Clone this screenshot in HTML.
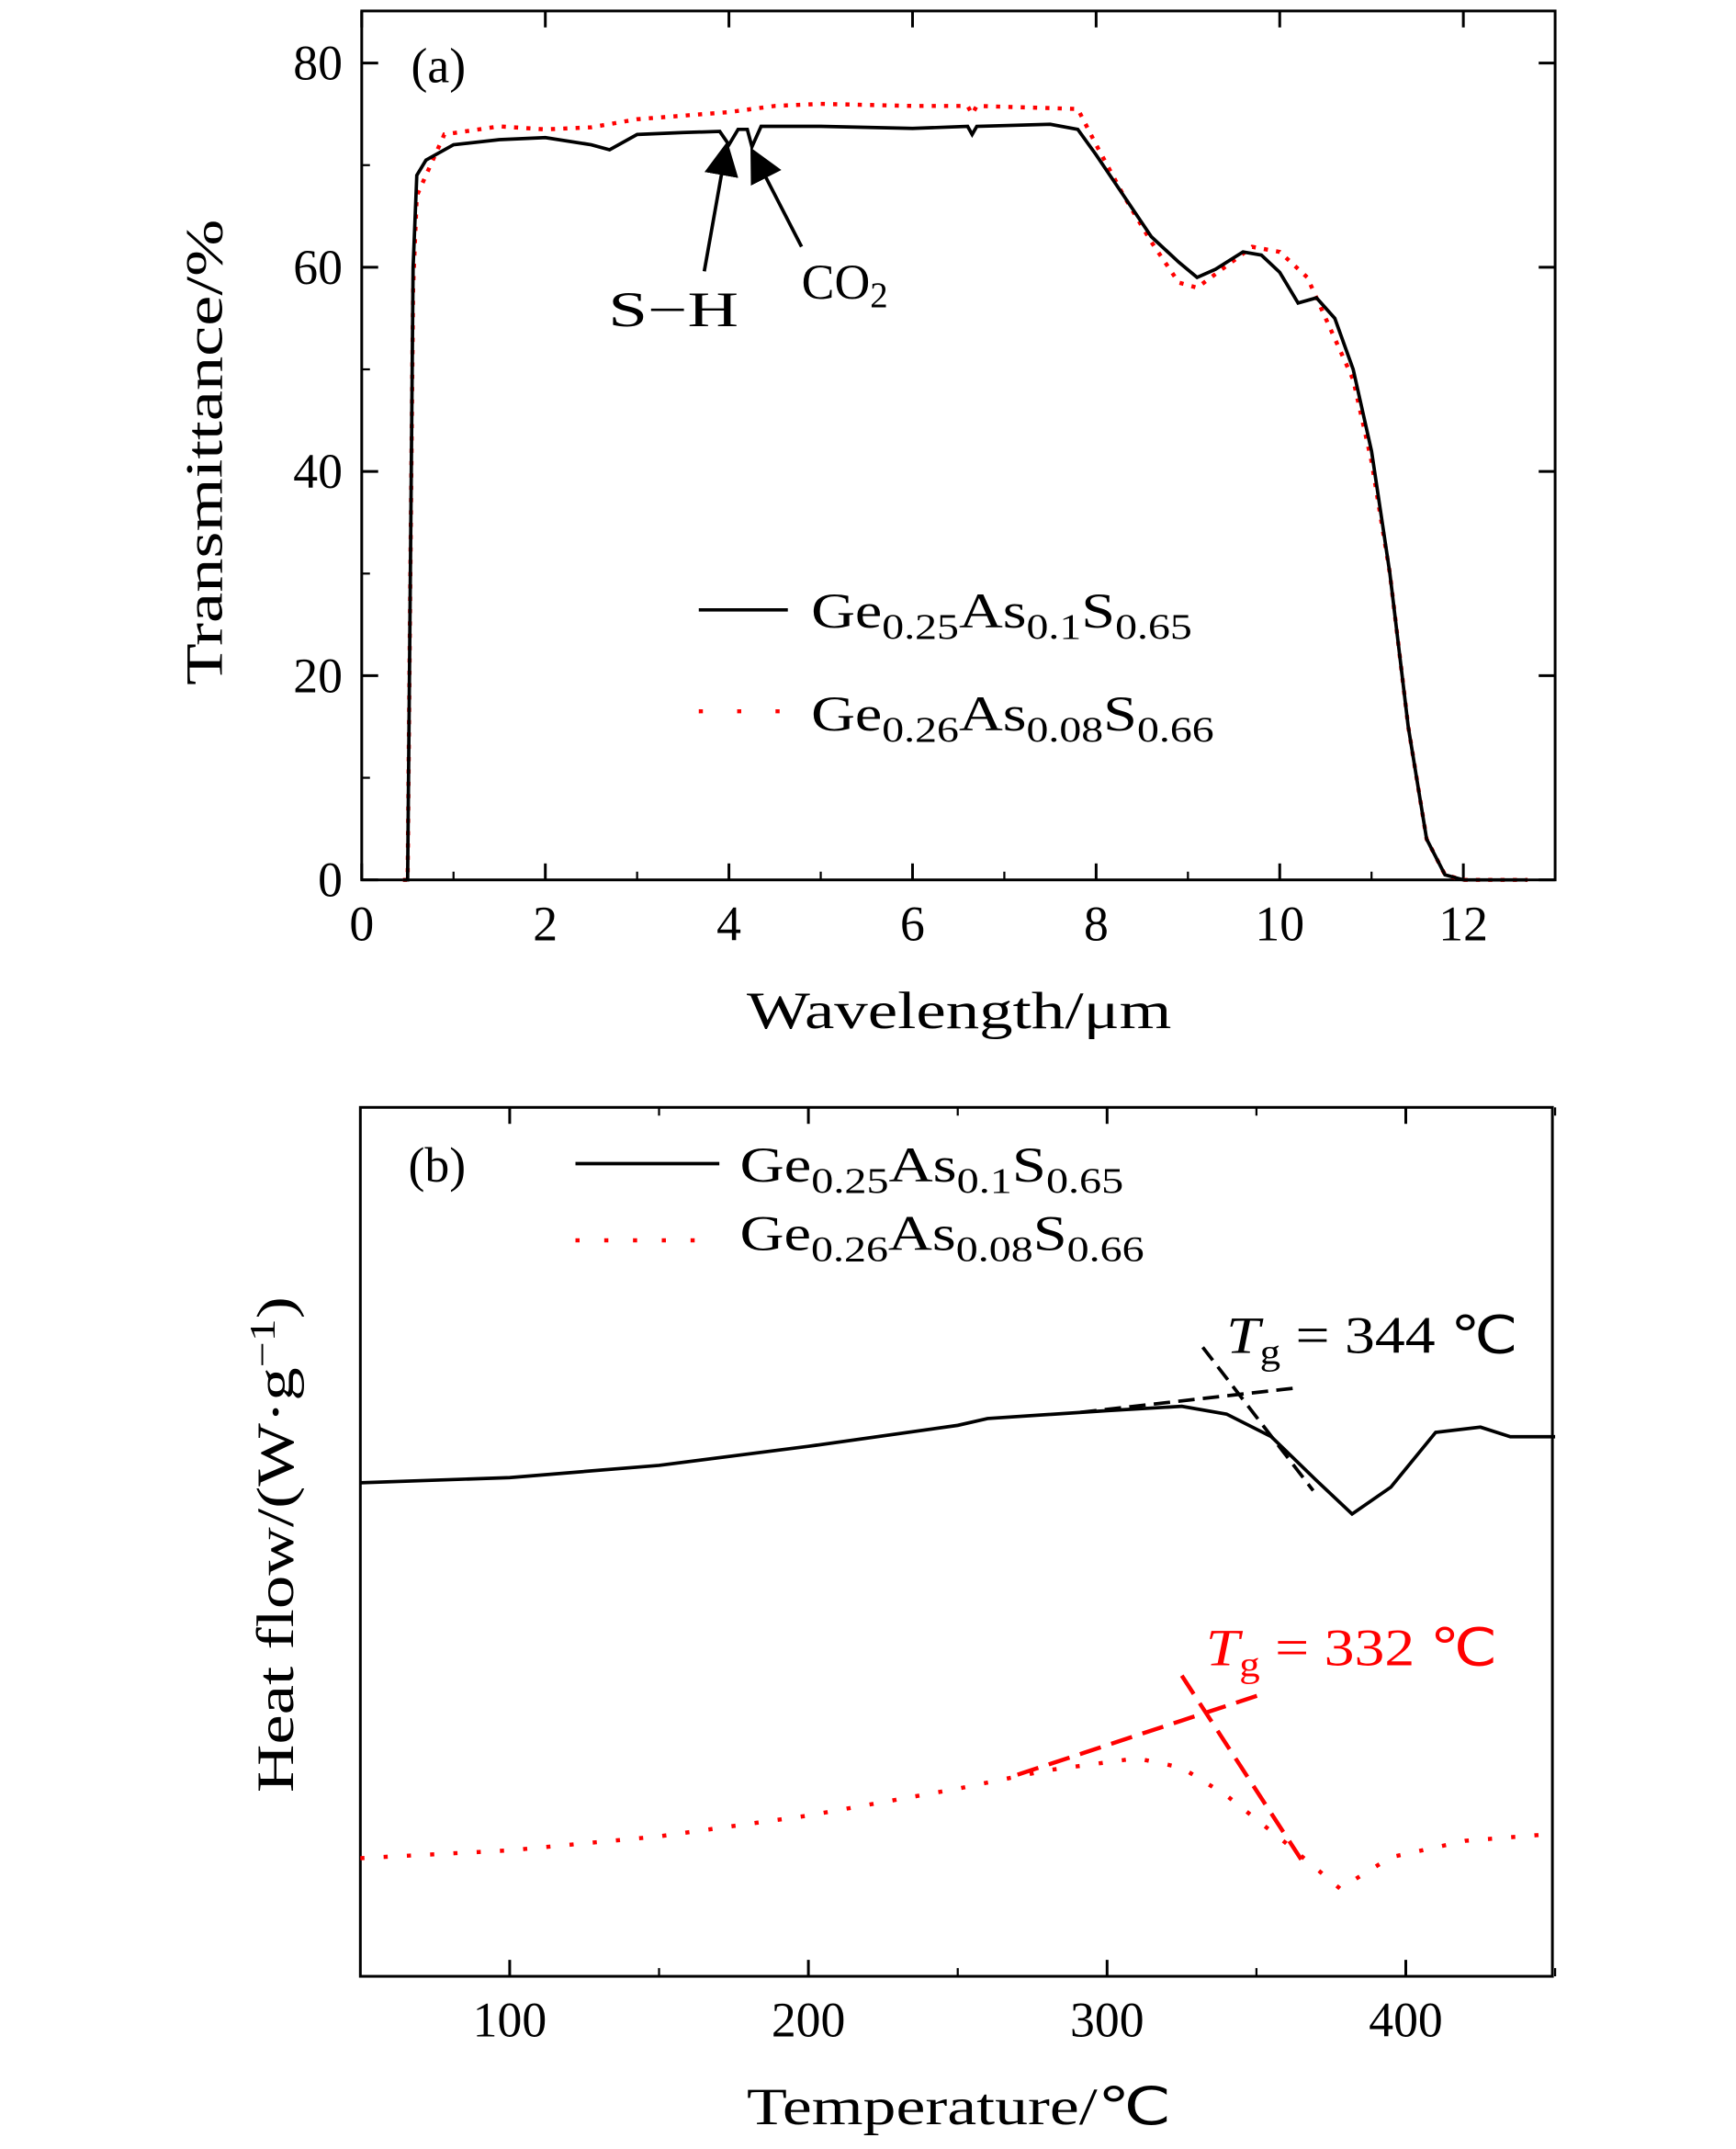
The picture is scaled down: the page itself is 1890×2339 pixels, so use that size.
<!DOCTYPE html>
<html><head><meta charset="utf-8">
<style>
html,body{margin:0;padding:0;background:#fff;}
svg{display:block;}
text{font-family:"Liberation Serif",serif;fill:#000;}
</style></head>
<body>
<svg id="chart" width="1890" height="2339" viewBox="0 0 1267 1568" xmlns="http://www.w3.org/2000/svg">
<g id="pa"></g>
<g id="pb"></g>
</svg>
<script>
// Panel (a) data
const wlTicks=[0,2,4,6,8,10,12];
const tTicks=[0,20,40,60,80];
const blackWl=[0.45,0.5,0.53,0.56,0.6,0.7,1,1.5,2,2.5,2.7,3,3.5,3.9,4.0,4.1,4.2,4.25,4.35,5,6,6.6,6.65,6.7,7.5,7.8,8,8.3,8.6,8.9,9.1,9.3,9.6,9.8,10,10.2,10.4,10.6,10.8,11,11.2,11.4,11.6,11.8,12,12.7];
const blackT=[0,0,30,60,69,70.5,72,72.5,72.7,72,71.5,73,73.2,73.3,72,73.5,73.5,71.8,73.8,73.8,73.6,73.8,73,73.8,74,73.5,71,67,63,60.5,59,59.8,61.5,61.2,59.5,56.5,57,55,50,42,30,15,4,0.5,0,0];
const redWl=[0.45,0.5,0.53,0.56,0.6,0.7,0.9,1.5,2,2.5,3,4,4.5,5,6,6.6,6.65,6.7,7.8,8,8.3,8.6,8.9,9.1,9.4,9.7,10,10.3,10.6,10.8,11,11.2,11.4,11.6,11.8,12,12.7];
const redT=[0,0,30,58,67,69,73,73.8,73.5,73.7,74.5,75.2,75.8,76,75.8,75.8,75,75.8,75.5,72,67,62.5,58.5,58,60,62,61.5,59,53,49,41,30,15,4,0.5,0,0];
// Panel (b) data
const tempTicks=[100,200,300,400];
const blackTemp=[50,100,150,200,250,260,300,325,340,355,370,382,395,410,425,435,450];
const blackHF=[5.68,5.74,5.88,6.10,6.34,6.42,6.51,6.56,6.47,6.21,5.71,5.32,5.63,6.26,6.32,6.21,6.21];
const redTemp=[50,100,150,200,250,280,310,325,340,360,378,395,420,450];
const redHF=[1.36,1.45,1.61,1.85,2.16,2.37,2.51,2.40,2.08,1.53,1.01,1.37,1.56,1.64];
const blackTanX=[[291,363],[332,369]];
const blackTanY=[[6.49,6.77],[7.24,5.59]];
const redTanX=[[270,352],[325,366]];
const redTanY=[[2.32,3.25],[3.46,1.29]];

const NS="http://www.w3.org/2000/svg";
function mk(parent,tag,attrs,txt){const e=document.createElementNS(NS,tag);for(const k in attrs)e.setAttribute(k,attrs[k]);if(txt!==undefined)e.textContent=txt;parent.appendChild(e);return e;}
const ax=v=>264+v*67, ay=v=>642-v*7.45;
const bx=v=>263+(v-50)*2.18, by=v=>1442-v*63.4;
function pathD(xs,ys,fx,fy){return xs.map((x,i)=>(i?'L':'M')+fx(x).toFixed(1)+' '+fy(ys[i]).toFixed(1)).join(' ');}
const FIT={lengthAdjust:'spacingAndGlyphs'};
function fit(o,len){o.textLength=len;o.lengthAdjust='spacingAndGlyphs';return o;}

const pa=document.getElementById('pa'), pb=document.getElementById('pb');
// ---- Panel a
let el=mk(pa,'rect',{x:264,y:8,width:871,height:634,fill:'none',stroke:'#000','stroke-width':2});


wlTicks.forEach(t=>{
  mk(pa,'line',{x1:ax(t),x2:ax(t),y1:642,y2:630,stroke:'#000','stroke-width':2});
  mk(pa,'line',{x1:ax(t),x2:ax(t),y1:8,y2:20,stroke:'#000','stroke-width':2});
  if(t<12){mk(pa,'line',{x1:ax(t+1),x2:ax(t+1),y1:642,y2:636,stroke:'#000','stroke-width':1.5});}
  const l=mk(pa,'text',{x:ax(t),y:686,'font-size':36,'text-anchor':'middle'},t);
  
  
});
tTicks.forEach(t=>{
  mk(pa,'line',{x1:264,x2:276,y1:ay(t),y2:ay(t),stroke:'#000','stroke-width':2});
  mk(pa,'line',{x1:1135,x2:1123,y1:ay(t),y2:ay(t),stroke:'#000','stroke-width':2});
  if(t<80){mk(pa,'line',{x1:264,x2:270,y1:ay(t+10),y2:ay(t+10),stroke:'#000','stroke-width':1.5});}
  const l=mk(pa,'text',{x:250,y:ay(t)+12,'font-size':36,'text-anchor':'end'},t);
  
  
});
el=mk(pa,'text',fit({x:545,y:750,'font-size':38},310),'Wavelength/μm');


el=mk(pa,'text',fit({x:0,y:0,'font-size':38,transform:'translate(162,500) rotate(-90)'},340),'Transmittance/%');


el=mk(pa,'text',{x:300,y:60,'font-size':36},'(a)');


el=mk(pa,'path',{d:pathD(redWl,redT,ax,ay),fill:'none',stroke:'#f00','stroke-width':3,'stroke-dasharray':'3 6'});


el=mk(pa,'path',{d:pathD(blackWl,blackT,ax,ay),fill:'none',stroke:'#000','stroke-width':2.5});


mk(pa,'defs',{}).innerHTML='<marker id="ar" markerWidth="10" markerHeight="10" refX="8" refY="5" orient="auto"><path d="M0,0 L10,5 L0,10 z" fill="#000"/></marker>';
el=mk(pa,'line',{x1:514,y1:198,x2:530,y2:108,stroke:'#000','stroke-width':2.5,'marker-end':'url(#ar)'});


el=mk(pa,'line',{x1:585,y1:180,x2:550,y2:112,stroke:'#000','stroke-width':2.5,'marker-end':'url(#ar)'});


el=mk(pa,'text',fit({x:444,y:238,'font-size':36},95),'S−H');


el=mk(pa,'text',{x:585,y:218,'font-size':36});
el.innerHTML='CO<tspan font-size="26" dy="6">2</tspan>';


mk(pa,'line',{x1:510,x2:575,y1:445,y2:445,stroke:'#000','stroke-width':2.5});
mk(pa,'line',{x1:510,x2:575,y1:519,y2:519,stroke:'#f00','stroke-width':3,'stroke-dasharray':'3 25'});
el=mk(pa,'text',fit({x:592,y:458,'font-size':36},278));
el.innerHTML='Ge<tspan font-size="26" dy="8">0.25</tspan><tspan dy="-8">As</tspan><tspan font-size="26" dy="8">0.1</tspan><tspan dy="-8">S</tspan><tspan font-size="26" dy="8">0.65</tspan>';


el=mk(pa,'text',fit({x:592,y:533,'font-size':36},294));
el.innerHTML='Ge<tspan font-size="26" dy="8">0.26</tspan><tspan dy="-8">As</tspan><tspan font-size="26" dy="8">0.08</tspan><tspan dy="-8">S</tspan><tspan font-size="26" dy="8">0.66</tspan>';



// ---- Panel b
el=mk(pb,'rect',{x:263,y:808,width:870,height:634,fill:'none',stroke:'#000','stroke-width':2});


tempTicks.forEach(t=>{
  mk(pb,'line',{x1:bx(t),x2:bx(t),y1:1442,y2:1430,stroke:'#000','stroke-width':2});
  mk(pb,'line',{x1:bx(t),x2:bx(t),y1:808,y2:820,stroke:'#000','stroke-width':2});
  mk(pb,'line',{x1:bx(t+50),x2:bx(t+50),y1:1442,y2:1436,stroke:'#000','stroke-width':1.5});
  mk(pb,'line',{x1:bx(t+50),x2:bx(t+50),y1:808,y2:814,stroke:'#000','stroke-width':1.5});
  const l=mk(pb,'text',{x:bx(t),y:1486,'font-size':36,'text-anchor':'middle'},t);
  
  
});
el=mk(pb,'text',fit({x:545,y:1550,'font-size':38},310),'Temperature/℃');


el=mk(pb,'text',fit({x:0,y:0,'font-size':38,transform:'translate(214,1308) rotate(-90)'},362));
el.innerHTML='Heat flow/(W·g<tspan font-size="26" dy="-14">−1</tspan><tspan dy="14">)</tspan>';


el=mk(pb,'text',{x:298,y:862,'font-size':36},'(b)');


el=mk(pb,'path',{d:pathD(blackTemp,blackHF,bx,by),fill:'none',stroke:'#000','stroke-width':2.5});


el=mk(pb,'path',{d:pathD(redTemp,redHF,bx,by),fill:'none',stroke:'#f00','stroke-width':3,'stroke-dasharray':'3 14'});


blackTanX.forEach((xs,i)=>{
  const l=mk(pb,'path',{d:pathD(xs,blackTanY[i],bx,by),fill:'none',stroke:'#000','stroke-width':2.5,'stroke-dasharray':'12 6'});
  
  
});
redTanX.forEach((xs,i)=>{
  const l=mk(pb,'path',{d:pathD(xs,redTanY[i],bx,by),fill:'none',stroke:'#f00','stroke-width':3,'stroke-dasharray':'16 8'});
  
  
});
el=mk(pb,'text',fit({x:895,y:987,'font-size':38},213));
el.innerHTML='<tspan font-style="italic">T</tspan><tspan font-size="26" dy="8">g</tspan><tspan dy="-8"> = 344 ℃</tspan>';


el=mk(pb,'text',fit({x:880,y:1215,'font-size':38,fill:'#f00'},213));
el.innerHTML='<tspan font-style="italic" fill="#f00">T</tspan><tspan font-size="26" dy="8" fill="#f00">g</tspan><tspan dy="-8" fill="#f00"> = 332 ℃</tspan>';


mk(pb,'line',{x1:420,x2:525,y1:849,y2:849,stroke:'#000','stroke-width':2.5});
mk(pb,'line',{x1:420,x2:525,y1:905,y2:905,stroke:'#f00','stroke-width':3,'stroke-dasharray':'3 18'});
el=mk(pb,'text',fit({x:540,y:862,'font-size':36},280));
el.innerHTML='Ge<tspan font-size="26" dy="8">0.25</tspan><tspan dy="-8">As</tspan><tspan font-size="26" dy="8">0.1</tspan><tspan dy="-8">S</tspan><tspan font-size="26" dy="8">0.65</tspan>';


el=mk(pb,'text',fit({x:540,y:912,'font-size':36},295));
el.innerHTML='Ge<tspan font-size="26" dy="8">0.26</tspan><tspan dy="-8">As</tspan><tspan font-size="26" dy="8">0.08</tspan><tspan dy="-8">S</tspan><tspan font-size="26" dy="8">0.66</tspan>';


</script>
</body></html>
